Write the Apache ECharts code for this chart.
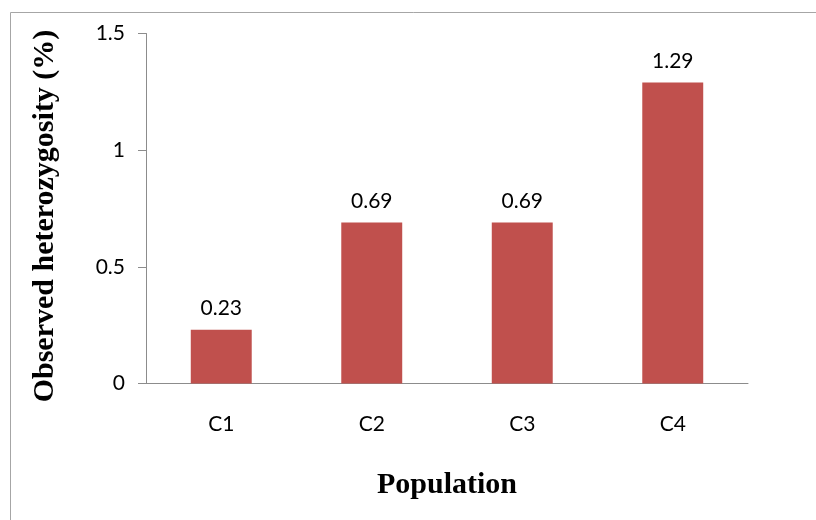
<!DOCTYPE html>
<html>
<head>
<meta charset="utf-8">
<script src="https://cdn.jsdelivr.net/npm/echarts@6/dist/echarts.min.js"></script>
<style>
  html, body { margin: 0; padding: 0; background: #ffffff; }
  #chart { width: 816px; height: 520px; }
</style>
</head>
<body>
<div id="chart"></div>
<script>
// Observed heterozygosity per population
const categories = ['C1', 'C2', 'C3', 'C4'];
const heterozygosity = [0.23, 0.69, 0.69, 1.29];
const yTicks = [0, 0.5, 1, 1.5];
const xTitle = 'Population';
const yTitle = 'Observed heterozygosity (%)';

const chart = echarts.init(document.getElementById('chart'), null, { renderer: 'canvas' });

const axisGrey = '#8c8c8c';
const tickFont = 'Lato, "Open Sans", sans-serif';
const titleFont = '"Liberation Serif", "DejaVu Serif", serif';

chart.setOption({
  animation: false,
  backgroundColor: '#ffffff',
  graphic: [{
    type: 'rect',
    shape: { x: 10.5, y: 12.5, width: 900, height: 600 },
    style: { fill: 'none', stroke: '#a6a6a6', lineWidth: 1 },
    silent: true,
    z: -1
  }, {
    // vertical axis title, rotated to read bottom-to-top
    type: 'text',
    x: 45,
    y: 216,
    rotation: Math.PI / 2,
    style: {
      text: yTitle,
      fontFamily: titleFont,
      fontWeight: 'bold',
      fontSize: 30,
      fill: '#000',
      textAlign: 'center',
      textVerticalAlign: 'middle'
    },
    silent: true
  }],
  grid: { left: 146, top: 33.5, width: 602, height: 350, containLabel: false },
  xAxis: {
    type: 'category',
    data: categories,
    name: xTitle,
    nameLocation: 'middle',
    nameGap: 87,
    nameTextStyle: { fontFamily: titleFont, fontWeight: 'bold', fontSize: 30, color: '#000' },
    axisLine: { lineStyle: { color: axisGrey, width: 1 } },
    axisTick: { show: false },
    axisLabel: { margin: 30, fontFamily: tickFont, fontSize: 21, color: '#000' }
  },
  yAxis: {
    type: 'value',
    min: yTicks[0],
    max: yTicks[yTicks.length - 1],
    interval: yTicks[1] - yTicks[0],
    axisLine: { show: true, lineStyle: { color: axisGrey, width: 1 } },
    axisTick: { show: true, length: 8, lineStyle: { color: axisGrey } },
    splitLine: { show: false },
    axisLabel: { margin: 21, fontFamily: tickFont, fontSize: 21, color: '#000' }
  },
  series: [{
    type: 'bar',
    data: heterozygosity,
    barWidth: '40.5%',
    itemStyle: { color: '#c0504d' },
    label: {
      show: true,
      position: 'top',
      distance: 11,
      fontFamily: tickFont,
      fontSize: 21,
      color: '#000',
      formatter: p => p.value.toFixed(2)
    }
  }]
});
</script>
</body>
</html>
